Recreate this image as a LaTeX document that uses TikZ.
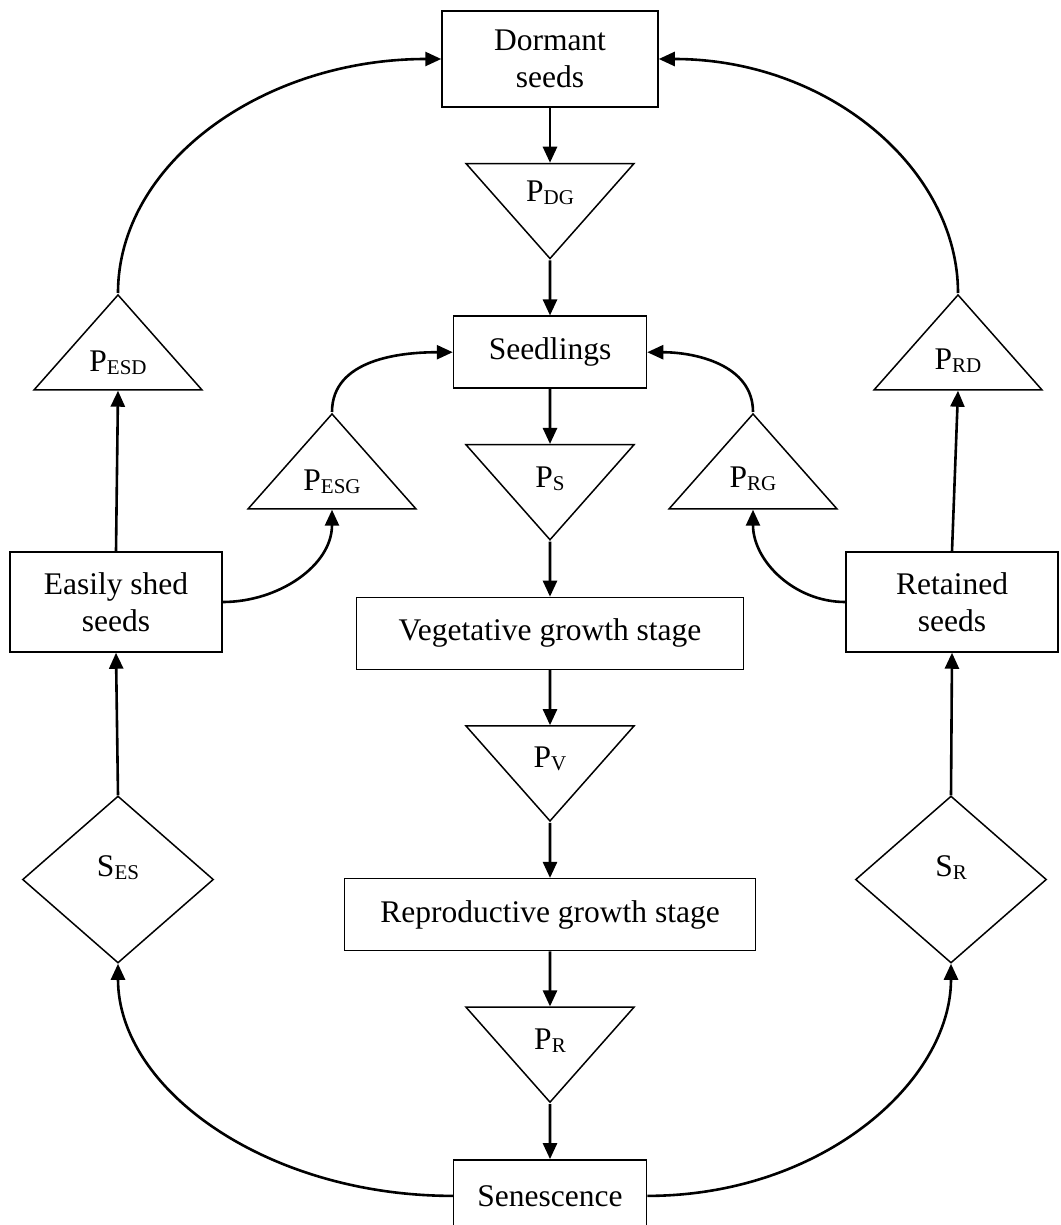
\documentclass[tikz,border=0pt]{standalone}
\usepackage{fontspec}
\setmainfont{Liberation Serif}
\usetikzlibrary{arrows.meta,positioning,shapes.geometric}
\newcommand{\subtxt}[1]{\raisebox{-3pt}{\fontsize{21}{21}\selectfont #1}}

\begin{document}
\begin{tikzpicture}[x=1pt,y=1pt,node distance=55pt,
    font=\fontsize{31.5}{37}\selectfont,
    >={Triangle[length=16pt,width=14pt]},
    stage/.style={draw,line width=1.5pt,minimum height=72pt,align=center,inner sep=0pt},
    pdown/.style={draw,line width=1.5pt,isosceles triangle,isosceles triangle stretches,
        shape border rotate=270,minimum width=168pt,minimum height=95pt,inner sep=0pt},
    pup/.style={pdown,shape border rotate=90},
    surv/.style={draw,line width=1.5pt,diamond,minimum width=191pt,minimum height=167pt,
        inner sep=0pt,text height=22pt,text depth=29pt},
    flow/.style={->,line width=2.6pt},
    wide/.style={out looseness=0.83,in looseness=1.15},
    wideback/.style={out looseness=1.17,in looseness=0.79}]
    \useasboundingbox (0,0) rectangle (1060,-1225);

    % main chain
    \node[stage,minimum width=216pt,minimum height=96pt] (dormant) at (550,-59) {Dormant\\seeds};
    \node[pdown]  (pdg)   [below=of dormant] {P\subtxt{DG}};
    \node[stage,minimum width=193pt] (seed)  [below=of pdg]   {Seedlings};
    \node[pdown]  (ps)    [below=of seed]    {P\subtxt{S}};
    \node[stage,minimum width=387pt] (veg)   [below=of ps]    {Vegetative growth stage};
    \node[pdown]  (pv)    [below=of veg]     {P\subtxt{V}};
    \node[stage,minimum width=411pt] (repro) [below=of pv]    {Reproductive growth stage};
    \node[pdown]  (pr)    [below=of repro]   {P\subtxt{R}};
    \node[stage,minimum width=193pt] (sen)   [below=of pr]    {Senescence};

    % easily shed side
    \node[pup,anchor=apex] (pesd) at (118,-293) {P\subtxt{ESD}};
    \node[pup,anchor=apex] (pesg) at (332,-412) {P\subtxt{ESG}};
    \node[stage,minimum width=212pt,minimum height=100pt] (easy) at (116,-602) {Easily shed\\seeds};
    \node[surv] (ses) at (118,-879.5) {S\subtxt{ES}};

    % retained side
    \node[pup,anchor=apex] (prd) at (958,-293) {P\subtxt{RD}};
    \node[pup,anchor=apex] (prg) at (753,-412) {P\subtxt{RG}};
    \node[stage,minimum width=212pt,minimum height=100pt] (ret) at (952,-602) {Retained\\seeds};
    \node[surv] (sr) at (951,-879.5) {S\subtxt{R}};

    \path[flow] (dormant) edge (pdg)
                (pdg)     edge (seed)
                (seed)    edge (ps)
                (ps)      edge (veg)
                (veg)     edge (pv)
                (pv)      edge (repro)
                (repro)   edge (pr)
                (pr)      edge (sen)
                (sen.west) edge[out=180,in=270,wideback] (ses.south)
                (sen.east) edge[out=0,in=270,wideback]   (sr.south)
                (ses.north)  edge (easy.south)
                (sr.north)   edge (ret.south)
                (easy.north) edge (pesd.south)
                (ret.north)  edge (prd.south)
                (easy.east)  edge[out=0,in=270]   (pesg.south)
                (ret.west)   edge[out=180,in=270] (prg.south)
                (pesg.apex)  edge[out=90,in=180]  (seed.west)
                (prg.apex)   edge[out=90,in=0]    (seed.east)
                (pesd.apex)  edge[out=90,in=180,wide] (dormant.west)
                (prd.apex)   edge[out=90,in=0,wide]   (dormant.east)
                ;
\end{tikzpicture}
\end{document}
